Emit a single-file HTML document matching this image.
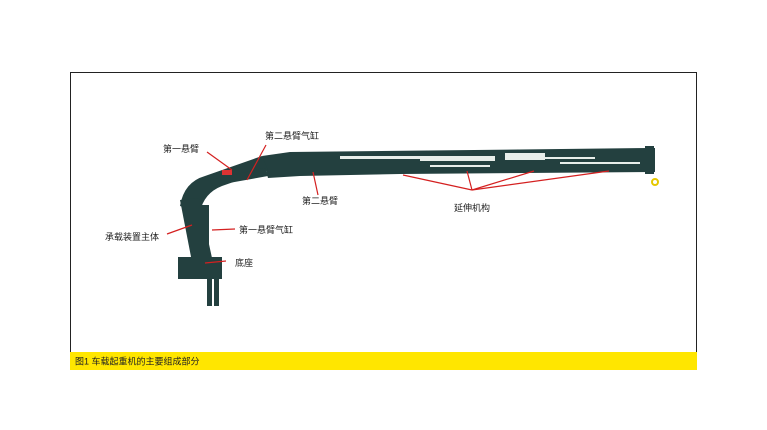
<!DOCTYPE html>
<html><head><meta charset="utf-8"><style>
body{margin:0;background:#fff;width:767px;height:430px;overflow:hidden;font-family:"Liberation Sans","Noto Sans CJK SC",sans-serif}
</style></head><body>
<svg width="767" height="430" xmlns="http://www.w3.org/2000/svg" style="position:absolute;left:0;top:0">
<rect x="70.5" y="72.5" width="626" height="290" fill="none" stroke="#222" stroke-width="1"/>
<rect x="70" y="352" width="627" height="18" fill="#ffe600"/>
<text x="75" y="364.5" font-size="9" fill="#222" font-family="Liberation Sans, Noto Sans CJK SC, sans-serif">图1 车载起重机的主要组成部分</text>
<g fill="#23403f">
<!-- boom -->
<path d="M262 156 L290 152 L650 148 L655 148 L655 172 L400 174 L300 176 L268 178 Z"/>
<rect x="645" y="146" width="9" height="28"/>
<!-- first arm -->
<path d="M180 206 Q184 182 205 176 L262 156 L268 170 L222 186 Q204 193 200 212 Z"/>
<path d="M210 180 L265 168 L268 176 L212 186 Z"/>
<!-- body -->
<path d="M180 200 L199 198 L212 258 L192 262 Z"/>
<rect x="199" y="205" width="10" height="52"/>
<rect x="178" y="257" width="44" height="22"/>
<rect x="207" y="278" width="5" height="28"/>
<rect x="214" y="278" width="5" height="28"/>
</g>
<g fill="#e8eeea">
<rect x="340" y="156" width="80" height="3"/>
<rect x="420" y="156" width="75" height="5"/>
<rect x="505" y="153" width="40" height="7"/>
<rect x="545" y="157" width="50" height="2"/>
<rect x="560" y="162" width="80" height="2"/>
<rect x="430" y="165" width="60" height="2"/>
</g>
<rect x="222" y="170" width="10" height="5" fill="#d33"/>
<circle cx="655" cy="182" r="3" fill="none" stroke="#e5c800" stroke-width="2"/>
<g stroke="#d42020" stroke-width="1.2" fill="none">
<line x1="207" y1="152" x2="232" y2="170"/>
<line x1="266" y1="145" x2="247" y2="180"/>
<line x1="313" y1="172" x2="318" y2="195"/>
<line x1="167" y1="234" x2="192" y2="225"/>
<line x1="212" y1="230" x2="235" y2="229"/>
<line x1="205" y1="263" x2="226" y2="261"/>
<line x1="472" y1="190" x2="403" y2="175"/>
<line x1="472" y1="190" x2="467" y2="171"/>
<line x1="472" y1="190" x2="534" y2="171"/>
<line x1="472" y1="190" x2="609" y2="171"/>
</g>
<g font-size="9" fill="#222" font-family="Liberation Sans, Noto Sans CJK SC, sans-serif">
<text x="163" y="152">第一悬臂</text>
<text x="265" y="139">第二悬臂气缸</text>
<text x="302" y="204">第二悬臂</text>
<text x="105" y="240">承载装置主体</text>
<text x="239" y="233">第一悬臂气缸</text>
<text x="235" y="266">底座</text>
<text x="454" y="211">延伸机构</text>
</g>
</svg>
</body></html>
